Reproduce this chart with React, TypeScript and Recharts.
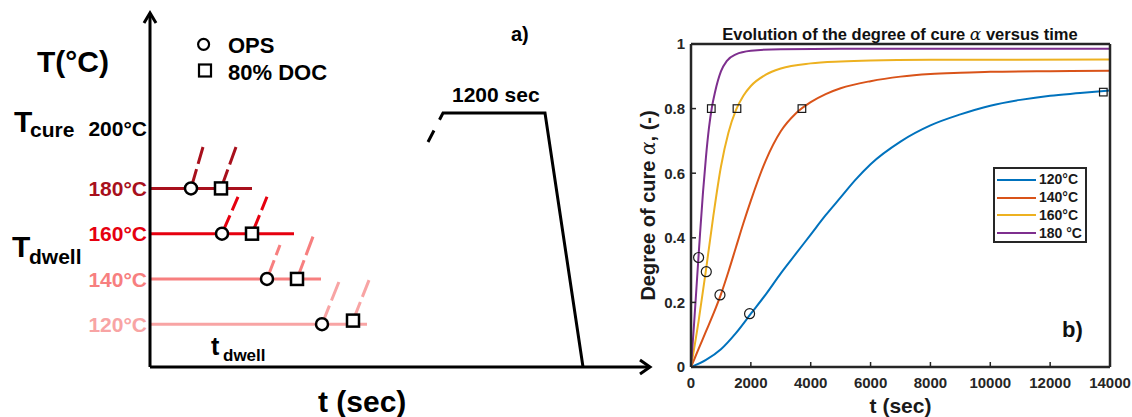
import React from 'react';
import { ComposedChart, Line, Scatter, XAxis, YAxis, Legend, ReferenceDot } from 'recharts';

const FONT = '"Liberation Sans", Arial, Helvetica, sans-serif';

// ---------------- panel a) : schematic cure cycle ----------------
const DWELL_TEMPS = [180, 160, 140, 120];
const DWELL_LABELS = ['180°C', '160°C', '140°C', '120°C'];
const DWELL_COLORS = ['#a8101c', '#e6000f', '#f77f7f', '#f8a4a4'];
const DWELL_END_T = [102, 144, 171, 217];
const OPS_SCHEM_T = [41, 72, 117, 172];
const OPS_SCHEM_TEMP = [180, 160, 140, 120];
const DOC_SCHEM_T = [71, 102, 147, 203];
const DOC_SCHEM_TEMP = [180, 160, 140, 121.6];
const OPS_RAMP_T = [53, 88, 130, 189];
const OPS_RAMP_TEMP = [198.3, 176.3, 155.0, 138.8];
const DOC_RAMP_T = [86, 117, 163, 219];
const DOC_RAMP_TEMP = [198.3, 176.3, 158.7, 139.5];
const CURE_PROFILE_T = [278, 293, 395, 433];
const CURE_PROFILE_TEMP = [200.5, 213.3, 213.3, 101.1];
const SCHEM_T_DOMAIN = [0, 500];
const SCHEM_TEMP_DOMAIN = [101.1, 257.5];
const LEGEND_A_LABELS = ['OPS', '80% DOC'];

// ---------------- panel b) : degree of cure vs time ----------------
const X_TICKS = [0, 2000, 4000, 6000, 8000, 10000, 12000, 14000];
const Y_TICKS = [0, 0.2, 0.4, 0.6, 0.8, 1];
const SERIES_NAMES = ['120°C', '140°C', '160°C', '180 °C'];
const SERIES_COLORS = ['#0072BD', '#D95319', '#EDB120', '#7E2F8E'];

const T_120 = [0, 500, 1000, 1500, 2000, 2500, 3000, 3500, 4000, 4500, 5000, 5500, 6000, 7000, 8000, 9000, 10000, 11000, 12000, 13000, 14000];
const A_120 = [0, 0.022, 0.055, 0.105, 0.165, 0.225, 0.29, 0.35, 0.41, 0.47, 0.525, 0.58, 0.628, 0.698, 0.748, 0.782, 0.809, 0.827, 0.84, 0.848, 0.856];

const T_140 = [0, 250, 500, 750, 1000, 1250, 1500, 1750, 2000, 2500, 3000, 3500, 4000, 4500, 5000, 6000, 7000, 8000, 9000, 10000, 12000, 14000];
const A_140 = [0, 0.055, 0.11, 0.165, 0.225, 0.295, 0.37, 0.445, 0.515, 0.64, 0.73, 0.785, 0.82, 0.845, 0.863, 0.885, 0.899, 0.907, 0.911, 0.914, 0.916, 0.917];

const T_160 = [0, 250, 500, 750, 1000, 1250, 1500, 1750, 2000, 2500, 3000, 4000, 5000, 6000, 8000, 14000];
const A_160 = [0, 0.14, 0.3, 0.47, 0.62, 0.725, 0.795, 0.84, 0.87, 0.905, 0.924, 0.94, 0.946, 0.949, 0.951, 0.952];

const T_180 = [0, 100, 200, 300, 400, 500, 600, 700, 800, 1000, 1200, 1500, 2000, 3000, 5000, 14000];
const A_180 = [0, 0.13, 0.27, 0.41, 0.54, 0.65, 0.74, 0.805, 0.85, 0.915, 0.948, 0.968, 0.979, 0.984, 0.985, 0.985];

const OPS_T = [1957, 968, 511, 254];
const OPS_ALPHA = [0.165, 0.223, 0.295, 0.339];
const DOC_T = [13777, 3706, 1536, 678];
const DOC_ALPHA = [0.851, 0.8, 0.8, 0.8];

// ---------------- derived tables ----------------
const dwellSeries = DWELL_TEMPS.map((T, i) => [{ t: 0, T }, { t: DWELL_END_T[i], T }]);
const opsRampSeries = DWELL_TEMPS.map((_, i) => [
  { t: OPS_SCHEM_T[i], T: OPS_SCHEM_TEMP[i] },
  { t: OPS_RAMP_T[i], T: OPS_RAMP_TEMP[i] },
]);
const docRampSeries = DWELL_TEMPS.map((_, i) => [
  { t: DOC_SCHEM_T[i], T: DOC_SCHEM_TEMP[i] },
  { t: DOC_RAMP_T[i], T: DOC_RAMP_TEMP[i] },
]);
const opsSchem = OPS_SCHEM_T.map((t, i) => ({ t, T: OPS_SCHEM_TEMP[i] }));
const docSchem = DOC_SCHEM_T.map((t, i) => ({ t, T: DOC_SCHEM_TEMP[i] }));
const cureProfile = CURE_PROFILE_T.map((t, i) => ({ t, T: CURE_PROFILE_TEMP[i] }));

const curveTimes = [T_120, T_140, T_160, T_180];
const curveAlphas = [A_120, A_140, A_160, A_180];
const curves = curveTimes.map((ts, k) => ts.map((t, i) => ({ t, a: curveAlphas[k][i] })));
const opsPts = OPS_T.map((t, i) => ({ t, a: OPS_ALPHA[i] }));
const docPts = DOC_T.map((t, i) => ({ t, a: DOC_ALPHA[i] }));

// ---------------- shapes ----------------
const schemCircle = (p: any) => (
  <circle cx={p.cx} cy={p.cy} r={6} fill="#fff" stroke="#000" strokeWidth={2.5} />
);
const schemSquare = (p: any) => (
  <rect x={p.cx - 6} y={p.cy - 6} width={12} height={12} fill="#fff" stroke="#000" strokeWidth={2.5} />
);
const plotCircle = (p: any) => (
  <circle cx={p.cx} cy={p.cy} r={5} fill="none" stroke="#1a1a1a" strokeWidth={1.2} />
);
const plotSquare = (p: any) => (
  <rect x={p.cx - 3.8} y={p.cy - 3.8} width={7.6} height={7.6} fill="none" stroke="#1a1a1a" strokeWidth={1.2} />
);
const noShape = () => <g />;
const arrowRight = (p: any) => (
  <path d={`M${p.cx - 10},${p.cy - 7} L${p.cx},${p.cy} L${p.cx - 10},${p.cy + 7}`} fill="none" stroke="#000" strokeWidth={3} />
);
const arrowUp = (p: any) => (
  <path d={`M${p.cx - 6},${p.cy + 10} L${p.cx},${p.cy} L${p.cx + 6},${p.cy + 10}`} fill="none" stroke="#000" strokeWidth={3} />
);

const LeftTick = (props: any) => {
  const { x, y, payload } = props;
  const i = DWELL_TEMPS.indexOf(payload.value);
  return (
    <text x={x} y={y} dy="0.36em" textAnchor="end" fill={DWELL_COLORS[i]} fontSize={21} fontWeight="bold" fontFamily={FONT}>
      {DWELL_LABELS[i]}
    </text>
  );
};

const LegendA = () => (
  <svg width={150} height={56} style={{ display: 'block' }}>
    <circle cx={13.6} cy={14.3} r={5.5} fill="#fff" stroke="#000" strokeWidth={2.2} />
    <text x={38} y={23} fontSize={22} fontWeight="bold" fontFamily={FONT}>{LEGEND_A_LABELS[0]}</text>
    <rect x={9} y={34.5} width={12} height={12} fill="#fff" stroke="#000" strokeWidth={2.2} />
    <text x={38} y={50} fontSize={22} fontWeight="bold" fontFamily={FONT}>{LEGEND_A_LABELS[1]}</text>
  </svg>
);

const LegendB = () => (
  <div style={{ width: 94, height: 76, boxSizing: 'border-box', border: '2px solid #262626', background: '#fff', paddingTop: 2 }}>
    {SERIES_NAMES.map((n, i) => (
      <div key={n} style={{ display: 'flex', alignItems: 'center', height: 17.8 }}>
        <svg width={44} height={4} style={{ display: 'block' }}>
          <line x1={2} x2={41} y1={2} y2={2} stroke={SERIES_COLORS[i]} strokeWidth={2} />
        </svg>
        <span style={{ fontFamily: FONT, fontWeight: 'bold', fontSize: 14, color: '#1a1a1a', lineHeight: '17px' }}>{n}</span>
      </div>
    ))}
  </div>
);

const YLabelB = (props: any) => {
  const vb = props.viewBox;
  const cx = vb.x + 28;
  const cy = vb.y + vb.height / 2;
  return (
    <text x={cx} y={cy} dy="0.36em" transform={`rotate(-90 ${cx} ${cy})`} textAnchor="middle" fontFamily={FONT} fontWeight="bold" fontSize={20} fill="#1a1a1a">
      Degree of cure <tspan fontFamily="DejaVu Serif" fontStyle="italic" fontWeight="normal">α</tspan>, (-)
    </text>
  );
};

const AXIS_B = { stroke: '#262626', strokeWidth: 2.5 };
const TICKLINE_B = { stroke: '#262626', strokeWidth: 1.5 };
const TICK_B = { fill: '#262626', fontSize: 15, fontWeight: 'bold', fontFamily: FONT };

export default function App() {
  return (
    <div style={{ position: 'absolute', left: 0, top: 0, width: 1132, height: 417, background: '#fff', overflow: 'hidden', fontFamily: FONT }}>
      {/* panel a */}
      <div style={{ position: 'absolute', left: 0, top: 0 }}>
        <ComposedChart width={660} height={417} margin={{ top: 13, right: 10, bottom: 0, left: 0 }}>
          <XAxis type="number" dataKey="t" domain={SCHEM_T_DOMAIN} allowDataOverflow height={50} tick={false} tickLine={false} axisLine={{ stroke: '#000', strokeWidth: 3 }} />
          <YAxis type="number" dataKey="T" domain={SCHEM_TEMP_DOMAIN} allowDataOverflow width={150} ticks={DWELL_TEMPS} interval={0} tickLine={false} tickSize={0} tickMargin={3} axisLine={{ stroke: '#000', strokeWidth: 3 }} tick={(p: any) => <LeftTick {...p} />} />
          <Legend layout="vertical" align="center" verticalAlign="middle" wrapperStyle={{ left: 190, top: 30, width: 150 }} content={() => <LegendA />} />
          {dwellSeries.map((d, i) => (
            <Line key={`dw${i}`} data={d} dataKey="T" type="linear" stroke={DWELL_COLORS[i]} strokeWidth={3} dot={false} legendType="none" isAnimationActive={false} />
          ))}
          {opsRampSeries.map((d, i) => (
            <Line key={`or${i}`} data={d} dataKey="T" type="linear" stroke={DWELL_COLORS[i]} strokeWidth={3} strokeDasharray="20 5.5" dot={false} legendType="none" isAnimationActive={false} />
          ))}
          {docRampSeries.map((d, i) => (
            <Line key={`dr${i}`} data={d} dataKey="T" type="linear" stroke={DWELL_COLORS[i]} strokeWidth={3} strokeDasharray="20 5.5" dot={false} legendType="none" isAnimationActive={false} />
          ))}
          <Line data={cureProfile} dataKey="T" type="linear" stroke="#000" strokeWidth={3} strokeDasharray="13 12 1000" dot={false} legendType="none" isAnimationActive={false} />
          <Scatter name={LEGEND_A_LABELS[0]} data={opsSchem} shape={schemCircle} legendType="none" isAnimationActive={false} />
          <Scatter name={LEGEND_A_LABELS[1]} data={docSchem} shape={schemSquare} legendType="none" isAnimationActive={false} />
          <ReferenceDot x={SCHEM_T_DOMAIN[1]} y={SCHEM_TEMP_DOMAIN[0]} shape={arrowRight} ifOverflow="visible" />
          <ReferenceDot x={SCHEM_T_DOMAIN[0]} y={SCHEM_TEMP_DOMAIN[1]} shape={arrowUp} ifOverflow="visible" />
        </ComposedChart>
      </div>

      {/* panel b */}
      <div style={{ position: 'absolute', left: 620, top: 0 }}>
        <ComposedChart width={512} height={417} margin={{ top: 43, right: 21, bottom: 0, left: 0 }}>
          <XAxis type="number" dataKey="t" domain={[0, 14000]} ticks={X_TICKS} interval={0} allowDataOverflow height={50} tickSize={-5} tickMargin={15} axisLine={AXIS_B} tickLine={TICKLINE_B} tick={TICK_B}
            label={{ value: 't (sec)', position: 'insideBottom', offset: 4, fontSize: 21, fontWeight: 'bold', fill: '#1a1a1a', fontFamily: FONT }} />
          <XAxis xAxisId="top" dataKey="t" orientation="top" type="number" domain={[0, 14000]} ticks={X_TICKS} interval={0} allowDataOverflow height={1} tickSize={-5} tick={false} axisLine={AXIS_B} tickLine={TICKLINE_B} />
          <YAxis type="number" dataKey="a" domain={[0, 1]} ticks={Y_TICKS} interval={0} allowDataOverflow width={71} tickSize={-5} tickMargin={11} axisLine={AXIS_B} tickLine={TICKLINE_B} tick={TICK_B}
            label={{ content: (p: any) => <YLabelB {...p} /> }} />
          <YAxis yAxisId="right" dataKey="a" orientation="right" type="number" domain={[0, 1]} ticks={Y_TICKS} interval={0} allowDataOverflow width={1} tickSize={-5} tick={false} axisLine={AXIS_B} tickLine={TICKLINE_B} />
          <Legend layout="vertical" align="center" verticalAlign="middle" wrapperStyle={{ left: 373, top: 167, width: 94 }} content={() => <LegendB />} />
          {curves.map((d, i) => (
            <Line key={`c${i}`} name={SERIES_NAMES[i]} data={d} dataKey="a" type="monotone" stroke={SERIES_COLORS[i]} strokeWidth={2} dot={false} isAnimationActive={false} />
          ))}
          <Scatter name="OPS" data={opsPts} shape={plotCircle} legendType="none" isAnimationActive={false} />
          <Scatter name="80% DOC" data={docPts} shape={plotSquare} legendType="none" isAnimationActive={false} />
          <Scatter xAxisId="top" yAxisId="right" data={opsPts} shape={noShape} legendType="none" isAnimationActive={false} />
        </ComposedChart>
      </div>

      {/* annotations */}
      <svg width={1132} height={417} style={{ position: 'absolute', left: 0, top: 0, pointerEvents: 'none' }} fontFamily={FONT} fontWeight="bold">
        <text x={37} y={72} fontSize={30}>T(°C)</text>
        <text x={14} y={131.5} fontSize={30}>T</text>
        <text x={30} y={137} fontSize={21}>cure</text>
        <text x={147} y={136} fontSize={21} textAnchor="end">200°C</text>
        <text x={12} y={256.5} fontSize={30}>T</text>
        <text x={29} y={264} fontSize={21}>dwell</text>
        <text x={211} y={355} fontSize={25}>t</text>
        <text x={223} y={361} fontSize={17}>dwell</text>
        <text x={318} y={412} fontSize={30}>t (sec)</text>
        <text x={511} y={41} fontSize={20}>a)</text>
        <text x={452} y={102} fontSize={21}>1200 sec</text>
        <text x={900} y={39.5} fontSize={16.5} textAnchor="middle" fill="#111">
          Evolution of the degree of cure <tspan fontFamily="DejaVu Serif" fontStyle="italic" fontWeight="normal" fontSize={17}>α</tspan> versus time
        </text>
        <text x={1062} y={337} fontSize={22} fill="#111">b)</text>
      </svg>
    </div>
  );
}
